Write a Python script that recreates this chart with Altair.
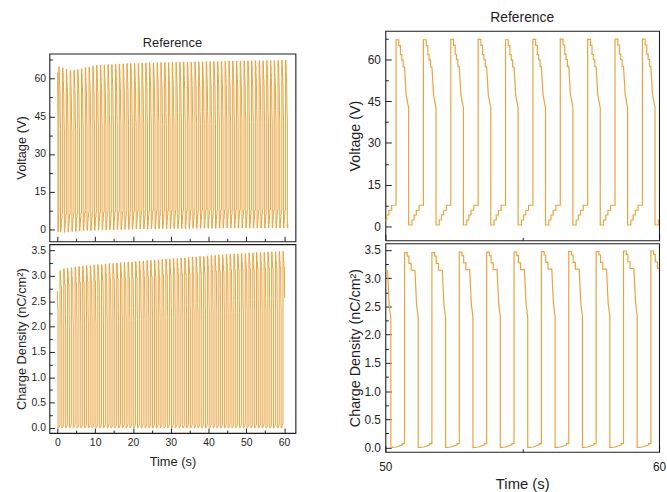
import altair as alt
import pandas as pd

INK = "#1e1e1e"
TRACE = "#E8A43E"
FONT = "Liberation Sans"
PERIOD = 1.0  # one switching cycle, s

# ---- voltage trace -------------------------------------------------------
# one cycle, times after its rising edge; levels taken on a 67.1 V cycle
V_RISE0 = 0.39
V_HIGH_T = [0.00, 0.10, 0.10, 0.16, 0.16, 0.21, 0.21, 0.26, 0.26, 0.31, 0.37, 0.46]
V_HIGH = [67.1, 67.1, 65.0, 65.0, 61.7, 61.7, 59.8, 59.8, 57.3, 57.3, 47.2, 42.5]
V_REF_PEAK = 67.1
V_LOW_T = [0.46, 0.58, 0.58, 0.66, 0.66, 0.74, 0.74, 0.84, 0.84, 1.00]
V_LOW = [0.0, 0.0, 1.8, 1.8, 3.6, 3.6, 5.3, 5.3, 7.1, 7.1]  # above the cycle floor
V_START_T = [0.00, 0.06, 0.12, 0.16, 0.16, 0.27, 0.27, 0.39]
V_START = [62.4, 62.4, 48.0, 45.0, -1.0, -1.0, 5.8, 6.3]
V_PEAKS = [
    64.7, 64.3, 63.7, 63.4, 63.4, 63.6, 63.9, 64.3, 64.6, 65.0,
    65.3, 65.4, 65.5, 65.6, 65.6, 65.7, 65.8, 65.9, 66.0, 66.0,
    66.1, 66.1, 66.2, 66.2, 66.3, 66.3, 66.3, 66.4, 66.4, 66.4,
    66.5, 66.5, 66.5, 66.6, 66.6, 66.6, 66.7, 66.7, 66.7, 66.8,
    66.8, 66.8, 66.9, 66.9, 66.9, 67.0, 67.0, 67.0, 67.0, 67.1,
    67.1, 67.1, 67.2, 67.2, 67.1, 67.2, 67.3, 67.2, 67.3, 67.3, 67.4,
]
V_FLOORS = [
    -1.0, -1.2, -1.1, -0.9, -0.8, -0.7, -0.6, -0.5, -0.5, -0.4,
    -0.4, -0.3, -0.3, -0.2, -0.2, -0.1, -0.1, 0.0, 0.0, 0.0,
    0.1, 0.1, 0.1, 0.1, 0.2, 0.2, 0.2, 0.2, 0.2, 0.3,
    0.3, 0.3, 0.3, 0.3, 0.3, 0.4, 0.4, 0.4, 0.4, 0.4,
    0.4, 0.4, 0.5, 0.5, 0.5, 0.5, 0.5, 0.5, 0.5, 0.5,
    0.5, 0.5, 0.5, 0.5, 0.5, 0.5, 0.5, 0.5, 0.5, 0.5, 0.5,
]
V_END = 61.0

# ---- charge density trace ------------------------------------------------
Q_RISE0 = 0.70
Q_HIGH_T = [0.00, 0.10, 0.10, 0.16, 0.16, 0.24, 0.24, 0.38, 0.44, 0.50]
Q_HIGH = [3.46, 3.46, 3.40, 3.40, 3.27, 3.27, 3.15, 3.15, 2.54, 2.31]
Q_REF_PEAK = 3.46
Q_LOW_T = [0.50, 0.70, 0.92, 0.92, 1.00]
Q_LOW = [0.00, 0.01, 0.05, 0.07, 0.07]
Q_START_T = [0.00, 0.08, 0.18, 0.18, 0.50, 0.70]
Q_START = [2.70, 2.45, 2.30, 0.00, 0.01, 0.06]
Q_PEAKS = [
    3.10, 3.14, 3.15, 3.16, 3.17, 3.18, 3.19, 3.20, 3.20, 3.21,
    3.22, 3.22, 3.23, 3.24, 3.24, 3.25, 3.26, 3.26, 3.27, 3.27,
    3.28, 3.29, 3.29, 3.30, 3.30, 3.31, 3.31, 3.32, 3.33, 3.33,
    3.34, 3.34, 3.35, 3.35, 3.36, 3.37, 3.37, 3.38, 3.38, 3.39,
    3.40, 3.40, 3.41, 3.41, 3.42, 3.42, 3.43, 3.43, 3.44, 3.44,
    3.45, 3.45, 3.46, 3.46, 3.46, 3.47, 3.47, 3.47, 3.48, 3.48,
]
Q_FLOORS = [0.0] * len(Q_PEAKS)
Q_END = 60.14


def trace(start_t, start_v, rise0, peaks, floors, high_t, high_v, ref_peak,
          low_t, low_v, t_end):
    ts, vs = list(start_t), list(start_v)
    for k, (pk, fl) in enumerate(zip(peaks, floors)):
        r = rise0 + k * PERIOD
        ts += [r + t for t in high_t]
        vs += [v - ref_peak + pk for v in high_v]
        ts += [r + t for t in low_t]
        vs += [fl + v for v in low_v]
    rows = [(round(t, 4), v) for t, v in zip(ts, vs) if t <= t_end + 1e-9]
    return pd.DataFrame({"t": [r[0] for r in rows], "v": [r[1] for r in rows],
                         "i": list(range(len(rows)))})


volt = trace(V_START_T, V_START, V_RISE0, V_PEAKS, V_FLOORS, V_HIGH_T, V_HIGH,
             V_REF_PEAK, V_LOW_T, V_LOW, V_END)
charge = trace(Q_START_T, Q_START, Q_RISE0, Q_PEAKS, Q_FLOORS, Q_HIGH_T, Q_HIGH,
               Q_REF_PEAK, Q_LOW_T, Q_LOW, Q_END)
volt_zoom = volt[(volt.t >= 49.4) & (volt.t <= 60.6)]
charge_zoom = charge[(charge.t >= 49.4) & (charge.t <= 60.6)]

# tick positions
X_FULL_TICKS = [5 * i for i in range(13)]
X_ZOOM_TICKS = [50, 55, 60]
V_TICKS = [7.5 * i for i in range(10)]
Q_TICKS = [0.25 * i for i in range(15)]


def inner_axis(values, major, tick, label_size, labels=True, fmt=None, title=None,
               title_size=13, label_pad=4, title_pad=6, minor_dash=None):
    """Axis whose ticks point into the plot; minor ticks drawn shorter."""
    kw = dict(
        values=values, offset=-tick, tickSize=tick, domain=False, grid=False,
        tickColor=INK, tickWidth=1,
        tickDash={"condition": {"test": f"!({major})", "value": minor_dash},
                  "value": [tick, 0]},
        labels=labels, labelFlush=False, labelOverlap=False,
        labelFont=FONT, labelFontSize=label_size, labelColor=INK,
        labelPadding=label_pad,
        title=title,
    )
    if labels:
        kw["labelExpr"] = f"({major}) ? datum.label : ''"
    if fmt:
        kw["format"] = fmt
    if title is not None:
        kw.update(titleFont=FONT, titleFontSize=title_size, titleFontWeight="normal",
                  titleColor=INK, titlePadding=title_pad)
    return alt.Axis(**kw)


def panel(df, xdom, ydom, w, h, xaxis, yaxis, stroke, title=None):
    props = dict(width=w, height=h)
    if title is not None:
        props["title"] = title
    return alt.Chart(df).mark_line(color=TRACE, strokeWidth=stroke, clip=True).encode(
        x=alt.X("t:Q", scale=alt.Scale(domain=xdom, nice=False, zero=False), axis=xaxis),
        y=alt.Y("v:Q", scale=alt.Scale(domain=ydom, nice=False, zero=False), axis=yaxis),
        order="i:Q",
    ).properties(**props)


def heading(size, offset):
    return alt.Title("Reference", font=FONT, fontSize=size, fontWeight="normal",
                     color=INK, anchor="middle", offset=offset)


def blank(height):
    """Empty band used to set the left column's vertical position."""
    return alt.Chart(pd.DataFrame({"t": [0.0]})).mark_point(opacity=0).encode(
        x=alt.X("t:Q", axis=None), y=alt.Y("t:Q", axis=None),
    ).properties(width=249, height=height, view=alt.ViewBackground(strokeOpacity=0))


X10 = "datum.value % 10 === 0"
V15 = "datum.value % 15 === 0"
Q05 = "(datum.value * 2) % 1 === 0"

# left column: full 60 s record
LT = 5
LD = [0, 2, 3, 30]
left_v = panel(
    volt, [-2.1, 63.0], [-4.8, 70.0], 249, 190,
    inner_axis(X_FULL_TICKS, X10, LT, 10.5, labels=False, minor_dash=LD),
    inner_axis(V_TICKS, V15, LT, 10.5, title="Voltage (V)", title_size=13,
               label_pad=4, title_pad=6, minor_dash=LD),
    1.0, title=heading(13, 4),
)
left_q = panel(
    charge, [-2.1, 63.0], [-0.10, 3.62], 249, 191,
    inner_axis(X_FULL_TICKS, X10, LT, 10.5, title="Time (s)", title_size=13,
               label_pad=5, title_pad=7, minor_dash=LD),
    inner_axis(Q_TICKS, Q05, LT, 10.5, fmt=".1f", title="Charge Density (nC/cm²)",
               title_size=13, label_pad=4, title_pad=3, minor_dash=LD),
    1.0,
)

# right column: last 10 s
RT = 6
RD = [0, 3, 3, 30]
right_v = panel(
    volt_zoom, [50, 60], [-5.0, 70.3], 277, 212,
    inner_axis(X_ZOOM_TICKS, X10, RT, 12, labels=False, minor_dash=RD),
    inner_axis(V_TICKS, V15, RT, 12, title="Voltage (V)", title_size=14.5,
               label_pad=5, title_pad=5, minor_dash=RD),
    1.2, title=heading(14, 6),
)
right_q = panel(
    charge_zoom, [50, 60], [-0.075, 3.617], 277, 211,
    inner_axis(X_ZOOM_TICKS, X10, RT, 12, title="Time (s)", title_size=15,
               label_pad=10, title_pad=4, minor_dash=RD),
    inner_axis(Q_TICKS, Q05, RT, 12, fmt=".1f", title="Charge Density (nC/cm²)",
               title_size=14.5, label_pad=5, title_pad=1, minor_dash=RD),
    1.2,
)

left = alt.vconcat(blank(4), left_v, left_q, blank(62), spacing=0)
right = alt.vconcat(right_v, right_q, spacing=0)

chart = alt.hconcat(left, right, spacing=51).properties(
    padding={"left": 14, "top": 7, "right": 0, "bottom": 0},
    background="white",
).configure_view(stroke=INK, strokeWidth=1.1)

chart.save("out.html", embed_options={"renderer": "svg", "actions": False})
